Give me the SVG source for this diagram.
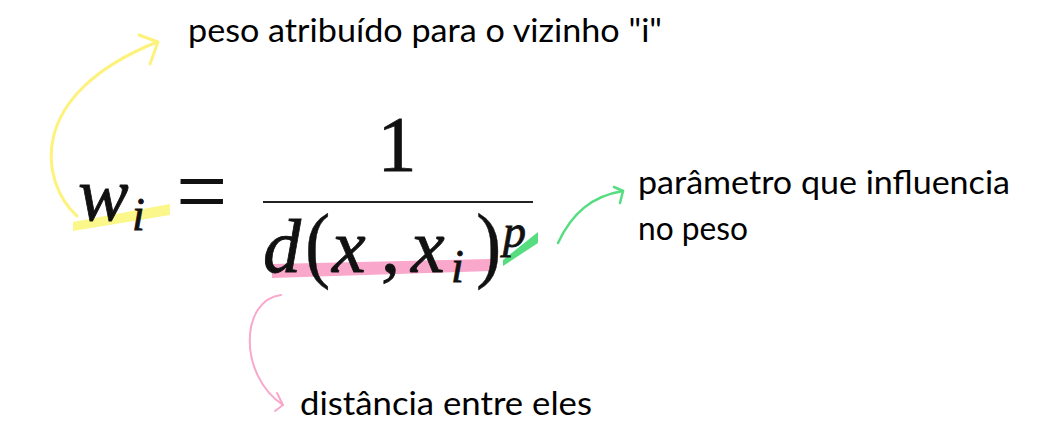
<svg xmlns="http://www.w3.org/2000/svg" width="1038" height="447" viewBox="0 0 1038 447">
<style>
.lbl{font-family:Lato,"Open Sans","Liberation Sans",sans-serif;font-size:32px;fill:#000;}
.m{font-family:"Liberation Serif","DejaVu Serif",serif;fill:#111;stroke:#111;stroke-width:0.8px;}
.mi{font-style:italic;}
.arr{fill:none;stroke-linecap:round;stroke-linejoin:round;}
</style>
<rect width="1038" height="447" fill="#ffffff"/>
<g id="highlights">
<polygon points="73,222 170,204 170,215 73,231" fill="#fcf78a"/>
<polygon points="272,264 491,259 491,271 272,278" fill="#f9a7cb"/>
<polygon points="503,260 538,232 538,243 503,266" fill="#55dd80"/>
</g>
<g id="formula">
<text class="m mi" x="78" y="220" font-size="76">w</text>
<text class="m mi" x="132" y="230" font-size="46">i</text>
<text class="m" x="0" y="0" font-size="76" style="stroke-width:0" transform="translate(176,225) scale(1.2,1.35)">=</text>
<text class="m" x="397" y="170" font-size="78" text-anchor="middle">1</text>
<line x1="263" y1="202" x2="533" y2="202" stroke="#222" stroke-width="2"/>
<text class="m mi" x="263" y="272" font-size="76">d</text>
<text class="m" x="0" y="0" font-size="76" style="stroke-width:0.4px" transform="translate(305,272) scale(1,1.12)">(</text>
<text class="m mi" x="332" y="272" font-size="76">x</text>
<text class="m" x="381" y="272" font-size="76">,</text>
<text class="m mi" x="411" y="272" font-size="76">x</text>
<text class="m mi" x="451" y="282" font-size="46">i</text>
<text class="m" x="0" y="0" font-size="76" style="stroke-width:0.4px" transform="translate(476,272) scale(1,1.12)">)</text>
<text class="m mi" x="503" y="247" font-size="46">p</text>
</g>
<g id="connectors">
<path class="arr" d="M77,216 C40,182 25,95 157,42" stroke="#fdf27c" stroke-width="3"/>
<path class="arr" d="M139,35 L158,42 L150,64" stroke="#fdf27c" stroke-width="3"/>
<path class="arr" d="M558,243 C572,213 592,196 623,191" stroke="#55dd80" stroke-width="2.5"/>
<path class="arr" d="M614,187 L623,191 L620,203" stroke="#55dd80" stroke-width="2.5"/>
<path class="arr" d="M281,295 C240,300 238,375 283,405" stroke="#f9a7cb" stroke-width="2"/>
<path class="arr" d="M277,393 L283,405 L275,411" stroke="#f9a7cb" stroke-width="2"/>
</g>
<g id="label-peso">
<text class="lbl" x="188" y="42" textLength="474" lengthAdjust="spacingAndGlyphs">peso atribuído para o vizinho "i"</text>
</g>
<g id="label-parametro">
<text class="lbl" x="638" y="194" textLength="372" lengthAdjust="spacingAndGlyphs">parâmetro que influencia</text>
<text class="lbl" x="638" y="240" textLength="110" lengthAdjust="spacingAndGlyphs">no peso</text>
</g>
<g id="label-distancia">
<text class="lbl" x="300" y="415" textLength="292" lengthAdjust="spacingAndGlyphs">distância entre eles</text>
</g>
</svg>
